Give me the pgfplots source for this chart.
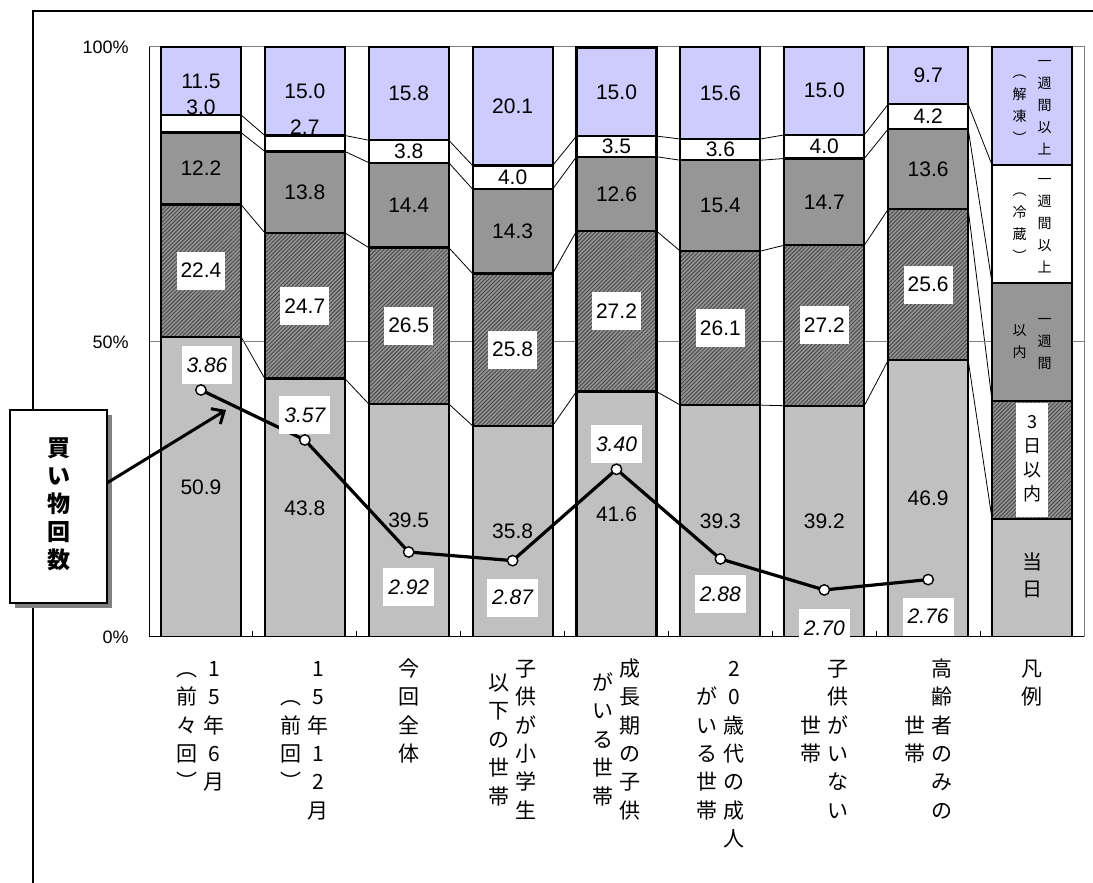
\documentclass[border=0pt]{standalone}
\usepackage{fontspec}
\setmainfont{Liberation Sans}
\newfontfamily\jp{Noto Sans CJK JP}
\usepackage{pgfplots}
\pgfplotsset{compat=1.18}
\usepackage{pgfplotstable}
\usetikzlibrary{patterns.meta,arrows.meta}

\definecolor{sameday}{HTML}{C0C0C0}
\definecolor{threeday}{HTML}{959595}
\definecolor{hatch}{HTML}{4A4A4A}
\definecolor{week}{HTML}{969696}
\definecolor{thawed}{HTML}{CCCCFF}
\definecolor{framegray}{HTML}{808080}

% shares (%) by storage period:
% a = same day, b = within 3 days, c = within a week,
% d = over a week (chilled), e = over a week (thawed); row 8 is the key column
\pgfplotstableread{
x a    b    c    d   e    dshift
0 50.9 22.4 12.2 3.0 11.5 8
1 43.8 24.7 13.8 2.7 15.0 8
2 39.5 26.5 14.4 3.8 15.8 0
3 35.8 25.8 14.3 4.0 20.1 0
4 41.6 27.2 12.6 3.5 15.0 0
5 39.3 26.1 15.4 3.6 15.6 0
6 39.2 27.2 14.7 4.0 15.0 0
7 46.9 25.6 13.6 4.2 9.7  0
8 20   20   20   20  20   0
}\shares

% shopping trips per household, with label offsets (pt)
\pgfplotstableread{
x v    ly    lx
0 3.86 12.5  3
1 3.57 12.5  0
2 2.92 -17.5 0
3 2.87 -18.5 0
4 3.40 12.5  0
5 2.88 -17.5 0
6 2.70 -19   0
7 2.76 -18.5 0
}\trips

% vertical (tategaki) text helpers
\newcommand\vcol[1]{\begin{tabular}[c]{@{}c@{}}#1\end{tabular}}
\newcommand\vpair[3][3pt]{\mbox{\vcol{#3}\hspace{#1}\vcol{#2}}}

\tikzset{serline/.style={black, line width=0.4pt}}

\pgfplotsset{
  frameaxis/.style={
    at={(74.5pt,123pt)}, anchor=south west, scale only axis,
    width=467.5pt, height=295pt,
    xmin=-0.5, xmax=8.5, ymin=0, ymax=100,
  },
}

\begin{document}
\begin{tikzpicture}
\path[use as bounding box] (0,0) rectangle (546.5pt,441.5pt);
\draw[line width=0.6pt] (16.5pt,-5pt) -- (16.5pt,436pt) -- (560pt,436pt);

% series lines joining the segment boundaries of neighbouring bars
\begin{axis}[frameaxis, hide axis, no markers]
\pgfplotsforeachungrouped \i in {0,...,7}{%
  \pgfmathtruncatemacro\j{\i+1}%
  \pgfplotstablegetelem{\i}{a}\of\shares\pgfmathsetmacro\La{\pgfplotsretval}%
  \pgfplotstablegetelem{\i}{b}\of\shares\pgfmathsetmacro\Lb{\La+\pgfplotsretval}%
  \pgfplotstablegetelem{\i}{c}\of\shares\pgfmathsetmacro\Lc{\Lb+\pgfplotsretval}%
  \pgfplotstablegetelem{\i}{d}\of\shares\pgfmathsetmacro\Ld{\Lc+\pgfplotsretval}%
  \pgfplotstablegetelem{\j}{a}\of\shares\pgfmathsetmacro\Ra{\pgfplotsretval}%
  \pgfplotstablegetelem{\j}{b}\of\shares\pgfmathsetmacro\Rb{\Ra+\pgfplotsretval}%
  \pgfplotstablegetelem{\j}{c}\of\shares\pgfmathsetmacro\Rc{\Rb+\pgfplotsretval}%
  \pgfplotstablegetelem{\j}{d}\of\shares\pgfmathsetmacro\Rd{\Rc+\pgfplotsretval}%
  \pgfmathsetmacro\xl{\i+0.385}\pgfmathsetmacro\xr{\j-0.385}%
  \edef\seg{%
    \noexpand\addplot[serline] coordinates {(\xl,\La) (\xr,\Ra)};
    \noexpand\addplot[serline] coordinates {(\xl,\Lb) (\xr,\Rb)};
    \noexpand\addplot[serline] coordinates {(\xl,\Lc) (\xr,\Rc)};
    \noexpand\addplot[serline] coordinates {(\xl,\Ld) (\xr,\Rd)};
  }\seg
}
\end{axis}

% stacked bars
\begin{axis}[frameaxis,
  ybar stacked, bar width=0.77,
  axis line style={framegray, line width=0.5pt},
  ytick={0,50,100}, yticklabels={0\%,50\%,100\%},
  ymajorgrids, grid style={framegray, line width=0.5pt},
  ytick style={draw=none},
  yticklabel style={font=\fontsize{9}{10}\selectfont, inner sep=0pt, xshift=-10pt},
  xtick={0,...,8}, major x tick style={draw=none},
  minor xtick={0.5,1.5,...,7.5}, minor x tick style={black, line width=0.5pt},
  minor tick length=3pt, tick align=inside, xtick pos=left, ytick pos=left,
  xticklabels={
    {\vpair{1\\5\\年\\6\\月}{︵\\前\\々\\回\\︶}},
    {\vpair{1\\5\\年\\1\\2\\月}{︵\\前\\回\\︶}},
    {\vcol{今\\回\\全\\体}},
    {\vpair{子\\供\\が\\小\\学\\生}{以\\下\\の\\世\\帯}},
    {\vpair{成\\長\\期\\の\\子\\供}{が\\い\\る\\世\\帯}},
    {\vpair{2\\0\\歳\\代\\の\\成\\人}{が\\い\\る\\世\\帯}},
    {\vpair{子\\供\\が\\い\\な\\い}{世\\帯}},
    {\vpair{高\\齢\\者\\の\\み\\の}{世\\帯}},
    {\vcol{凡\\例}}},
  xticklabel style={font=\jp\fontsize{10.5}{14.2}\selectfont, anchor=north, inner sep=0pt, yshift=-9.5pt},
  every axis plot/.append style={draw=black, line width=1.1pt},
]
\addplot[fill=sameday] table[x=x,y=a]{\shares};
\addplot[fill=threeday, postaction={pattern={Lines[angle=45,distance=1.4pt,line width=0.5pt]}, pattern color=hatch}] table[x=x,y=b]{\shares};
\addplot[fill=week] table[x=x,y=c]{\shares};
\addplot[fill=white] table[x=x,y=d]{\shares};
\addplot[fill=thawed] table[x=x,y=e]{\shares};
\draw[black, line width=1pt] (rel axis cs:0,0) -- (rel axis cs:1,0);
\draw[black, line width=0.5pt] (rel axis cs:0,0) -- (rel axis cs:0,1);
\end{axis}

% segment values and key texts
\begin{axis}[frameaxis, hide axis, no markers, clip=false,
  /pgf/number format/fixed, /pgf/number format/fixed zerofill,
  /pgf/number format/precision=1, /pgf/number format/assume math mode=true,
  nodes near coords, point meta=explicit,
  visualization depends on={\thisrow{dshift} \as \dshift},
  every node near coord/.append style={anchor=center, text=black, font=\fontsize{10.5}{12}\selectfont},
]
\addplot[draw=none, restrict x to domain=-1:7.5] table[x=x, y expr=\thisrow{a}/2, meta=a]{\shares};
\addplot[draw=none, restrict x to domain=-1:7.5,
  every node near coord/.append style={fill=white, inner xsep=2pt, minimum height=19pt}]
  table[x=x, y expr=\thisrow{a}+\thisrow{b}/2, meta=b]{\shares};
\addplot[draw=none, restrict x to domain=-1:7.5] table[x=x, y expr=\thisrow{a}+\thisrow{b}+\thisrow{c}/2, meta=c]{\shares};
\addplot[draw=none, restrict x to domain=-1:7.5,
  every node near coord/.append style={yshift=\dshift pt}]
  table[x=x, y expr=\thisrow{a}+\thisrow{b}+\thisrow{c}+\thisrow{d}/2, meta=d]{\shares};
\addplot[draw=none, restrict x to domain=-1:7.5] table[x=x, y expr=\thisrow{a}+\thisrow{b}+\thisrow{c}+\thisrow{d}+\thisrow{e}/2, meta=e]{\shares};

\node[font=\jp\fontsize{7}{11}\selectfont] at (axis cs:8,90) {\vpair[5.5pt]{一\\週\\間\\以\\上}{︵\\解\\凍\\︶}};
\node[font=\jp\fontsize{7}{11}\selectfont] at (axis cs:8,70) {\vpair[5.5pt]{一\\週\\間\\以\\上}{︵\\冷\\蔵\\︶}};
\node[font=\jp\fontsize{7}{11}\selectfont] at (axis cs:8,50) {\vpair[5.5pt]{一\\週\\間}{以\\内}};
\node[fill=white, minimum width=16pt, minimum height=57pt, inner sep=0pt, font=\jp\fontsize{9}{12}\selectfont] at (axis cs:8,30) {\vcol{3\\日\\以\\内}};
\node[font=\jp\fontsize{10}{13.5}\selectfont] at (axis cs:8,10) {\vcol{当\\日}};
\end{axis}

% shopping trips line
\begin{axis}[frameaxis, ymin=2.427, ymax=5.85, hide axis, clip=false,
  /pgf/number format/fixed, /pgf/number format/fixed zerofill,
  /pgf/number format/precision=2, /pgf/number format/assume math mode=true,
  nodes near coords, point meta=explicit,
  visualization depends on={\thisrow{ly} \as \ly},
  visualization depends on={\thisrow{lx} \as \lx},
  every node near coord/.append style={anchor=center, fill=white, text=black,
    inner xsep=2.5pt, minimum height=19pt,
    font=\itshape\fontsize{10.5}{12}\selectfont, yshift=\ly pt, xshift=\lx pt},
]
\addplot[black, line width=1.6pt, mark=*, mark size=2.6pt,
  mark options={fill=white, draw=black, line width=0.7pt}]
  table[x=x, y=v, meta=v]{\trips};
\end{axis}

% callout
\fill[framegray] (7.5pt,137.5pt) rectangle (56pt,234pt);
\draw[fill=white, line width=0.8pt] (5pt,140pt) rectangle (53.5pt,236.5pt);
\node[font=\jp\bfseries\fontsize{11.5}{14}\selectfont] at (29.25pt,188.25pt) {\vcol{買\\い\\物\\回\\数}};
\draw[line width=1.5pt, -{Straight Barb[length=5pt,width=9pt]}] (53.5pt,200pt) -- (113pt,236.5pt);
\end{tikzpicture}
\end{document}
